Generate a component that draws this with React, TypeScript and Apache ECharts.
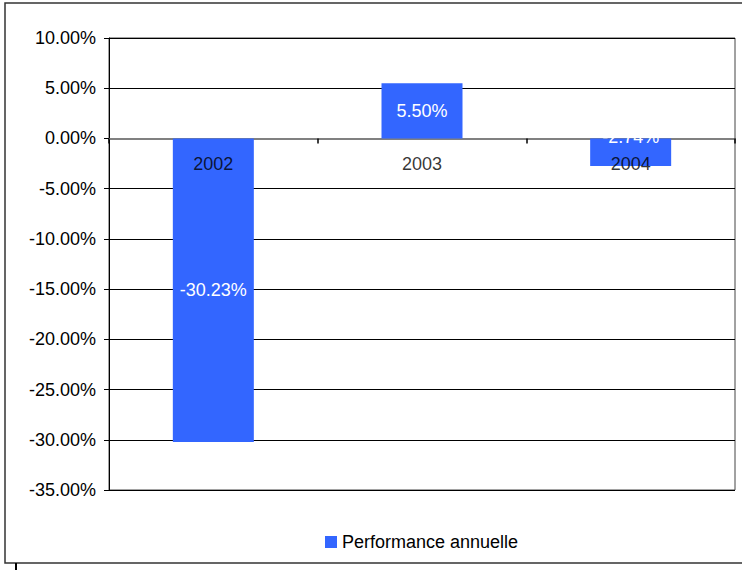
import React, { useEffect, useRef } from "react";
import * as echarts from "echarts";

const categories = ["2002", "2003", "2004"];
const performance = [-30.23, 5.5, -2.74];
const seriesName = "Performance annuelle";
const yMin = -35;
const yMax = 10;
const yStep = 5;

export default function App() {
  const ref = useRef<HTMLDivElement>(null);
  useEffect(() => {
    document.body.style.margin = "0";
    const chart = echarts.init(ref.current!, null, { renderer: "svg" });
    const font = "'Liberation Sans', Arial, sans-serif";
    chart.setOption({
      animation: false,
      backgroundColor: "#ffffff",
      textStyle: { fontFamily: font },
      grid: {
        left: 109,
        top: 38,
        right: 7,
        bottom: 80,
        show: true,
        borderColor: "#444",
        borderWidth: 1,
        backgroundColor: "transparent",
      },
      graphic: [
        {
          type: "rect",
          shape: { x: 5, y: 3, width: 760, height: 560 },
          style: { fill: "none", stroke: "#333", lineWidth: 1.5 },
          silent: true,
          z: -1,
        },
        {
          type: "line",
          shape: { x1: 16, y1: 563, x2: 16, y2: 570 },
          style: { stroke: "#000", lineWidth: 2 },
          silent: true,
        },
      ],
      legend: {
        data: [seriesName],
        left: 320,
        top: 528,
        icon: "rect",
        itemWidth: 12,
        itemHeight: 12,
        itemGap: 6,
        textStyle: { color: "#000", fontSize: 18, fontFamily: font },
      },
      xAxis: {
        type: "category",
        data: categories,
        axisLine: { onZero: true, lineStyle: { color: "#808080", width: 2 } },
        axisTick: { show: true, length: 5, lineStyle: { color: "#000", width: 1.5 } },
        axisLabel: { show: false },
        splitLine: { show: false },
      },
      yAxis: {
        type: "value",
        min: yMin,
        max: yMax,
        interval: yStep,
        axisLine: { show: true, lineStyle: { color: "#000", width: 1 } },
        axisTick: { show: true, length: 5, lineStyle: { color: "#000" } },
        axisLabel: {
          color: "#000",
          fontSize: 18,
          margin: 13,
          fontFamily: font,
          formatter: (v: number) => v.toFixed(2) + "%",
        },
        splitLine: { show: true, lineStyle: { color: "#000", width: 1 } },
      },
      series: [
        {
          name: seriesName,
          type: "bar",
          barWidth: 81,
          itemStyle: { color: "#3366FF" },
          label: {
            show: true,
            position: "inside",
            color: "#ffffff",
            fontSize: 18,
            fontFamily: font,
            formatter: (p: any) => Number(p.value).toFixed(2) + "%",
          },
          data: performance.map((v, i) =>
            i === 2 ? { value: v, label: { offset: [0, -15] } } : v
          ),
        },
        {
          name: "categoryLabels",
          type: "scatter",
          symbolSize: 0,
          z: 10,
          silent: true,
          label: {
            show: true,
            position: "bottom",
            distance: 17,
            color: "#000",
            fontSize: 18,
            fontFamily: font,
            formatter: (p: any) => p.name,
          },
          data: categories.map((c) => [c, 0]),
        },
      ],
    });
    return () => chart.dispose();
  }, []);
  return <div ref={ref} style={{ width: 742, height: 570 }} />;
}
